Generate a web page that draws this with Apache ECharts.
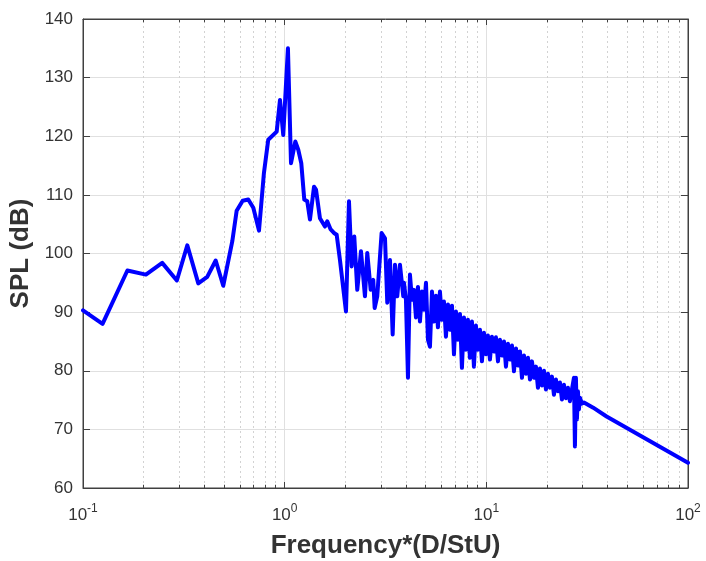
<!DOCTYPE html>
<html>
<head>
<meta charset="utf-8">
<script src="https://cdn.jsdelivr.net/npm/echarts@6/dist/echarts.min.js"></script>
<style>
html,body{margin:0;padding:0;background:#fff;}
#chart{width:706px;height:561px;}
</style>
</head>
<body>
<div id="chart"></div>
<script>
// Frequency*(D/StU) values
var freq = [
  0.1,0.125,0.166,0.205,0.247,0.292,0.329,0.373,0.413,0.455,
  0.496,0.550,0.578,0.619,0.660,0.699,0.746,0.789,0.829,0.913,
  0.948,0.984,1.038,1.075,1.129,1.168,1.209,1.251,1.294,1.335,
  1.398,1.430,1.496,1.584,1.626,1.691,1.756,1.811,1.880,2.014,
  2.084,2.149,2.214,2.291,2.390,2.501,2.568,2.670,2.750,2.794,
  2.878,3.025,3.144,3.227,3.328,3.432,3.524,3.617,3.730,3.873,
  3.904,3.994,4.087,4.181,4.278,4.375,4.477,4.580,4.686,4.795,
  4.905,5.020,5.135,5.254,5.376,5.500,5.627,5.754,5.888,6.024,
  6.163,6.305,6.451,6.600,6.754,6.910,7.069,7.232,7.399,7.568,
  7.743,7.923,8.105,8.292,8.484,8.679,8.880,9.087,9.297,9.511,
  9.730,9.954,10.18,10.42,10.66,10.91,11.16,11.42,11.68,11.95,
  12.23,12.51,12.80,13.09,13.40,13.71,14.03,14.35,14.68,15.02,
  15.37,15.73,16.09,16.46,16.84,17.22,17.62,18.03,18.44,18.87,
  19.31,19.75,20.21,20.67,21.15,21.64,22.14,22.65,23.17,23.71,
  24.26,24.81,25.39,25.97,26.57,27.19,27.50,27.81,28.13,28.46,
  28.79,29.12,29.79,30.48,33.88,39.48,100
];
// SPL (dB) values
var spl = [
  90.3,88.0,97.1,96.4,98.4,95.4,101.4,94.9,96.0,98.8,
  94.5,102.1,107.3,109.0,109.2,107.8,103.9,113.7,119.4,120.8,
  126.2,120.2,135.0,115.4,119.1,117.7,115.4,109.2,108.9,105.8,
  111.4,110.9,106.0,104.6,105.5,104.1,103.5,103.2,98.9,90.1,
  108.9,97.8,102.9,93.8,100.4,92.7,100.1,93.8,95.5,90.7,
  92.7,103.5,102.6,91.6,98.9,86.2,98.1,92.7,98.1,92.7,
  95.0,92.1,78.8,96.4,92.1,93.8,89.1,94.3,88.4,93.5,
  90.4,95.0,85.3,84.1,93.5,88.4,92.8,87.4,93.5,88.7,
  91.8,85.8,91.3,87.0,91.1,82.8,90.1,85.3,89.7,80.5,
  89.1,83.6,88.7,82.2,88.4,80.7,87.7,83.6,87.0,81.6,
  86.5,82.8,86.0,81.9,85.8,83.3,85.7,81.6,85.3,82.6,
  85.0,80.7,84.6,81.9,84.3,79.9,83.8,80.9,83.3,78.8,
  82.6,79.5,82.2,78.5,81.6,78.8,80.7,77.1,80.4,77.5,
  80.0,76.8,79.5,77.1,79.0,75.9,78.5,76.5,78.0,75.1,
  77.6,75.3,77.1,74.8,76.8,78.8,67.1,78.8,71.7,76.5,
  73.4,75.4,74.4,74.6,73.7,72.2,64.3
];
// axis ranges / tick values
var xMin = 0.1, xMax = 100;
var yMin = 60, yMax = 140, yStep = 10;
var minorX = [0.2,0.3,0.4,0.5,0.6,0.7,0.8,0.9,2,3,4,5,6,7,8,9,20,30,40,50,60,70,80,90];

var chart = echarts.init(document.getElementById('chart'), null, {renderer:'canvas'});
var axisColor = '#404040';
var textColor = '#333333';
var font = 'Liberation Sans, Arial, Helvetica, sans-serif';

var data = freq.map(function(f,i){ return [f, spl[i]]; });

var minorGridLines = minorX.map(function(v){ return {xAxis: v}; });
var minorTickH = 0.55;
var minorTicks = [];
minorX.forEach(function(v){
  minorTicks.push([{coord:[v, yMin]},{coord:[v, yMin + minorTickH]}]);
  minorTicks.push([{coord:[v, yMax]},{coord:[v, yMax - minorTickH]}]);
});

function expLabel(v){
  var e = Math.round(Math.log10(v));
  return '{b|10}{s|' + e + '}';
}

var option = {
  animation: false,
  backgroundColor: '#ffffff',
  grid: {left: 83, right: 18, top: 19, bottom: 73, outerBoundsMode: 'none', containLabel: false,
         show: true, borderColor: axisColor, borderWidth: 1, backgroundColor: 'transparent'},
  xAxis: [{
    type: 'log', logBase: 10, min: xMin, max: xMax,
    position: 'bottom',
    name: 'Frequency*(D/StU)', nameLocation: 'middle', nameGap: 45,
    nameTextStyle: {fontSize: 26, fontWeight: 'bold', color: '#333333', fontFamily: font},
    axisLine: {show: true, lineStyle: {color: axisColor, width: 1}},
    axisTick: {show: true, inside: true, length: 6, lineStyle: {color: axisColor}},
    axisLabel: {
      margin: 15, formatter: expLabel,
      rich: {
        b: {fontSize: 17, color: textColor, fontFamily: font, lineHeight: 24},
        s: {fontSize: 12, color: textColor, fontFamily: font, lineHeight: 12, verticalAlign: 'top'}
      }
    },
    splitLine: {show: true, lineStyle: {color: '#e0e0e0', width: 1}},
    minorTick: {show: false}
  }, {
    type: 'log', logBase: 10, min: xMin, max: xMax,
    position: 'top',
    axisLine: {show: true, onZero: false, lineStyle: {color: axisColor, width: 1}},
    axisTick: {show: true, inside: true, length: 6, lineStyle: {color: axisColor}},
    axisLabel: {show: false},
    splitLine: {show: false}
  }],
  yAxis: [{
    type: 'value', min: yMin, max: yMax, interval: yStep,
    position: 'left',
    name: 'SPL (dB)', nameLocation: 'middle', nameGap: 47, nameRotate: 90,
    nameTextStyle: {fontSize: 26, fontWeight: 'bold', color: '#333333', fontFamily: font},
    axisLine: {show: true, lineStyle: {color: axisColor, width: 1}},
    axisTick: {show: true, inside: true, length: 7, lineStyle: {color: axisColor}},
    axisLabel: {margin: 10, fontSize: 17, color: textColor, fontFamily: font},
    splitLine: {show: true, lineStyle: {color: '#e0e0e0', width: 1}}
  }, {
    type: 'value', min: yMin, max: yMax, interval: yStep,
    position: 'right',
    axisLine: {show: true, lineStyle: {color: axisColor, width: 1}},
    axisTick: {show: true, inside: true, length: 7, lineStyle: {color: axisColor}},
    axisLabel: {show: false},
    splitLine: {show: false}
  }],
  series: [{
    type: 'line',
    silent: true,
    xAxisIndex: 0, yAxisIndex: 0,
    data: [],
    markLine: {
      silent: true, symbol: 'none', animation: false,
      label: {show: false},
      lineStyle: {color: '#d2d2d2', width: 1, type: [2, 3]},
      emphasis: {disabled: true},
      data: minorGridLines
    }
  }, {
    type: 'line',
    silent: true,
    xAxisIndex: 0, yAxisIndex: 0,
    data: [],
    markLine: {
      silent: true, symbol: 'none', animation: false,
      label: {show: false},
      lineStyle: {color: axisColor, width: 1, type: 'solid'},
      emphasis: {disabled: true},
      data: minorTicks
    }
  }, {
    type: 'line',
    xAxisIndex: 0, yAxisIndex: 0,
    data: data,
    showSymbol: false,
    symbol: 'none',
    smooth: false,
    lineStyle: {color: '#0000ff', width: 4, join: 'round', cap: 'round'},
    z: 5
  }]
};
chart.setOption(option);
</script>
</body>
</html>
